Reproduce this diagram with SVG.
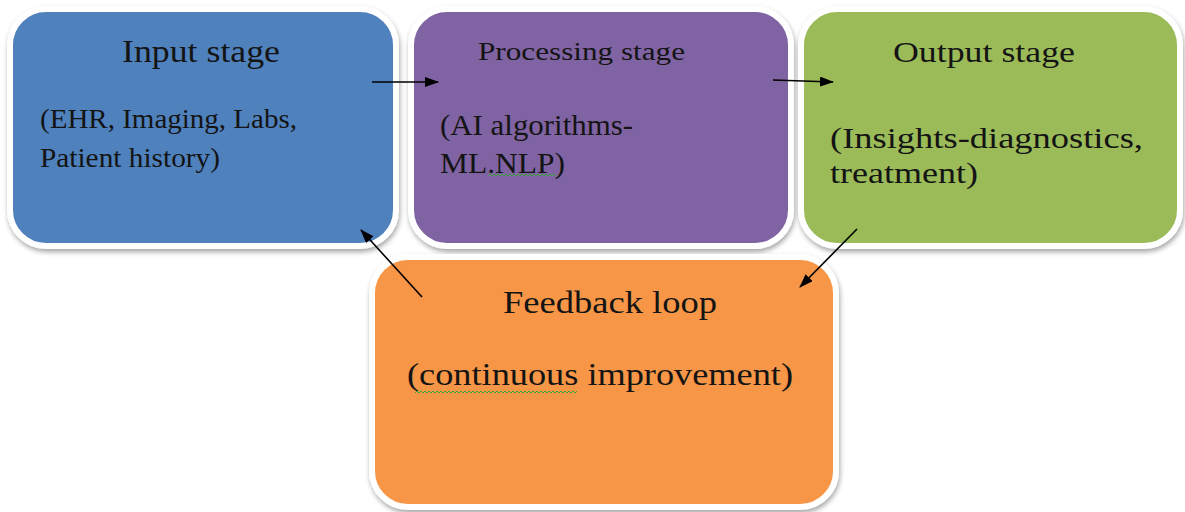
<svg xmlns="http://www.w3.org/2000/svg" width="1185" height="512" viewBox="0 0 1185 512">
<style>
.box{stroke:#ffffff;stroke-width:6}
.t{fill:#141414}
.c{stroke:#000;stroke-width:1.6;fill:none;marker-end:url(#ah)}
.sq{stroke:#3aa33a;stroke-width:1;fill:none}
</style>
<defs>
<filter id="sh" x="-10%" y="-10%" width="120%" height="125%">
<feDropShadow dx="1" dy="3" stdDeviation="2.5" flood-color="#000" flood-opacity="0.35"/>
</filter>
<marker id="ah" markerWidth="14" markerHeight="10" refX="13" refY="5" orient="auto" markerUnits="userSpaceOnUse">
<path d="M0,0 L14,5 L0,10 Z" fill="#000"/>
</marker>
</defs>
<rect width="1185" height="512" fill="#ffffff"/>
<g font-family="'Liberation Serif', Tinos, 'Times New Roman', Times, 'Nimbus Roman', FreeSerif, serif">
<g id="input">
<rect class="box" x="10" y="9" width="386" height="237" rx="36" fill="#4F81BD" filter="url(#sh)"/>
<text class="t" x="122" y="62" font-size="32" textLength="158" lengthAdjust="spacingAndGlyphs">Input stage</text>
<text class="t" x="40" y="128" font-size="27" textLength="257" lengthAdjust="spacingAndGlyphs">(EHR, Imaging, Labs,</text>
<text class="t" x="40" y="167" font-size="27" textLength="180" lengthAdjust="spacingAndGlyphs">Patient history)</text>
</g>
<g id="processing">
<rect class="box" x="411" y="9" width="380" height="237" rx="36" fill="#8064A2" filter="url(#sh)"/>
<text class="t" x="478" y="60" font-size="26" textLength="207" lengthAdjust="spacingAndGlyphs">Processing stage</text>
<text class="t" x="440" y="135" font-size="29" textLength="193" lengthAdjust="spacingAndGlyphs">(AI algorithms-</text>
<text class="t" x="440" y="173" font-size="29" textLength="125" lengthAdjust="spacingAndGlyphs">ML.NLP)</text>
<path class="sq" d="M488,176 l2,-2 l2,2 l2,-2 l2,2 l2,-2 l2,2 l2,-2 l2,2 l2,-2 l2,2 l2,-2 l2,2 l2,-2 l2,2 l2,-2 l2,2 l2,-2 l2,2 l2,-2 l2,2 l2,-2 l2,2 l2,-2 l2,2 l2,-2 l2,2 l2,-2 l2,2 l2,-2 l2,2 l2,-2 l2,2 l2,-2 l2,2"/>
</g>
<g id="output">
<rect class="box" x="801" y="9" width="379" height="237" rx="36" fill="#9BBB59" filter="url(#sh)"/>
<text class="t" x="893" y="62" font-size="30" textLength="182" lengthAdjust="spacingAndGlyphs">Output stage</text>
<text class="t" x="830" y="148" font-size="30" textLength="313" lengthAdjust="spacingAndGlyphs">(Insights-diagnostics,</text>
<text class="t" x="830" y="183" font-size="30" textLength="148" lengthAdjust="spacingAndGlyphs">treatment)</text>
</g>
<g id="feedback">
<rect class="box" x="372" y="257" width="464" height="250" rx="36" fill="#F79646" filter="url(#sh)"/>
<text class="t" x="503" y="313" font-size="31" textLength="214" lengthAdjust="spacingAndGlyphs">Feedback loop</text>
<text class="t" x="407" y="385" font-size="31" textLength="386" lengthAdjust="spacingAndGlyphs">(continuous improvement)</text>
<path class="sq" d="M415,393 l2,-2 l2,2 l2,-2 l2,2 l2,-2 l2,2 l2,-2 l2,2 l2,-2 l2,2 l2,-2 l2,2 l2,-2 l2,2 l2,-2 l2,2 l2,-2 l2,2 l2,-2 l2,2 l2,-2 l2,2 l2,-2 l2,2 l2,-2 l2,2 l2,-2 l2,2 l2,-2 l2,2 l2,-2 l2,2 l2,-2 l2,2 l2,-2 l2,2 l2,-2 l2,2 l2,-2 l2,2 l2,-2 l2,2 l2,-2 l2,2 l2,-2 l2,2 l2,-2 l2,2 l2,-2 l2,2 l2,-2 l2,2 l2,-2 l2,2 l2,-2 l2,2 l2,-2 l2,2 l2,-2 l2,2 l2,-2 l2,2 l2,-2 l2,2 l2,-2 l2,2 l2,-2 l2,2 l2,-2 l2,2 l2,-2 l2,2 l2,-2 l2,2 l2,-2 l2,2 l2,-2 l2,2 l2,-2 l2,2 l2,-2"/>
</g>
</g>
<g id="connectors">
<line class="c" x1="372" y1="82" x2="438" y2="82"/>
<line class="c" x1="773" y1="80" x2="833" y2="82"/>
<line class="c" x1="857" y1="229" x2="800" y2="287"/>
<line class="c" x1="422" y1="297" x2="361" y2="230"/>
</g>
</svg>
